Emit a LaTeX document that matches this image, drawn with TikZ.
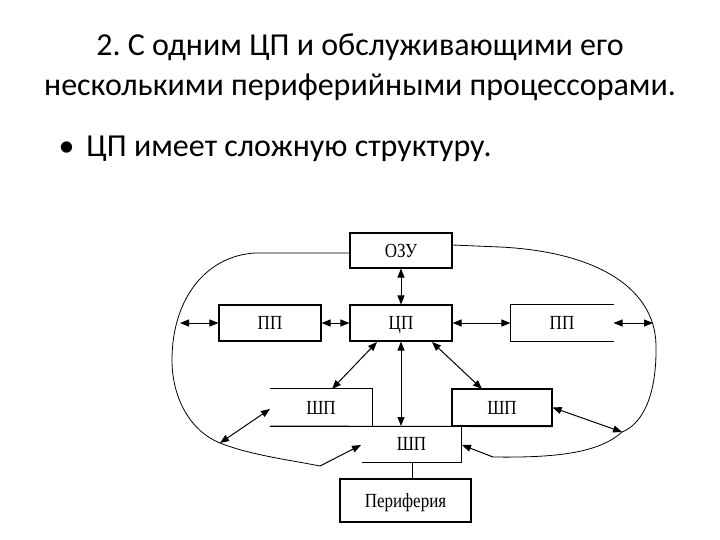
\documentclass[tikz,border=0pt]{standalone}
\usepackage{fontspec}
\setmainfont{Carlito}
\newfontfamily\diagfont[FakeStretch=0.85]{Liberation Serif}
\usetikzlibrary{arrows.meta}
\frenchspacing
\begin{document}
\begin{tikzpicture}[x=1pt,y=-1pt,
  dfont/.style={font=\diagfont\fontsize{20}{24}\selectfont,text height=13pt,text depth=0pt},
  blk/.style={draw,line width=1.1pt,minimum width=102pt,minimum height=36pt,inner sep=0pt,dfont},
  lbl/.style={inner sep=0pt,dfont},
  dar/.style={line width=1pt,{Triangle[length=9pt,width=7pt]}-{Triangle[length=9pt,width=7pt]}},
  sar/.style={line width=1pt,-{Triangle[length=9pt,width=7pt]}},
  bus/.style={line width=1.1pt},
  curve/.style={line width=0.8pt}]
\useasboundingbox (0,0) rectangle (720,540);
% titles
\node[font=\fontsize{32}{40}\selectfont,align=center] (title) at (360,67) {2. С одним ЦП и обслуживающими его\\несколькими периферийными процессорами.};
\node[font=\fontsize{32}{38}\selectfont,anchor=west] (bullet) at (55,149) {•\hspace{12pt}ЦП имеет сложную структуру.};
% blocks
\node[blk,minimum height=35pt] (ozu) at (401,250.5) {ОЗУ};
\node[blk] (cp) at (401,323) {ЦП};
\node[blk] (ppl) at (270,323) {ПП};
\node[blk,draw=none] (ppr) at (562,323) {ПП};
\draw[bus] (ppr.north east) -- (ppr.north west) -- (ppr.south west) -- (ppr.south east);
\node[lbl,minimum width=102pt,minimum height=37pt] (shl) at (321,407.5) {ШП};
\draw[bus] (shl.north west) -- (shl.north east) -- (shl.south east);
\node[blk,minimum width=100pt,minimum height=37pt] (shr) at (502,407.5) {ШП};
\node[lbl,minimum width=99pt,minimum height=36pt] (shm) at (411.5,444) {ШП};
\draw[bus] (shm.south west) -- (shm.south east) -- (shm.north east);
\draw[bus] (shl.south west) -- (shr.south east);
\node[blk,minimum width=131pt,minimum height=43pt] (peri) at (405.5,500.5) {Периферия};
\draw[line width=0.8pt] (412,462) -- (412,479);
% arrows
\draw[dar] (ozu.south) -- (cp.north);
\draw[dar] (ppl.east) -- (cp.west);
\draw[dar] (cp.east) -- (ppr.west);
\coordinate (lo) at (180,323);
\coordinate (ro) at (653,323);
\draw[dar] (lo) -- (ppl.west);
\draw[dar] (ppr.east) -- (ro);
\draw[dar] (cp.south) -- (401,426);
\draw[dar] (377,342) -- (332,389);
\draw[dar] (432,342) -- (482,389);
% left loop
\coordinate (cl) at (220,443);
\coordinate (ll) at (320,466);
\draw[curve] (350,253) -- (255,253) .. controls (205,256) and (172,300) .. (172,360)
  .. controls (172,400) and (192,432) .. (cl) .. controls (250,455) and (290,460) .. (ll);
\draw[dar] (270,409) -- (cl);
\draw[sar] (ll) -- (361,445);
% right loop
\coordinate (cr) at (622,432);
\coordinate (lr) at (493,457);
\draw[curve] (452,245) -- (500,247) .. controls (600,252) and (655,290) .. (656,345)
  .. controls (657,400) and (640,425) .. (cr) .. controls (600,452) and (560,458) .. (lr);
\draw[dar] (shr.east) -- (cr);
\draw[sar] (lr) -- (462,445);
\end{tikzpicture}
\end{document}
